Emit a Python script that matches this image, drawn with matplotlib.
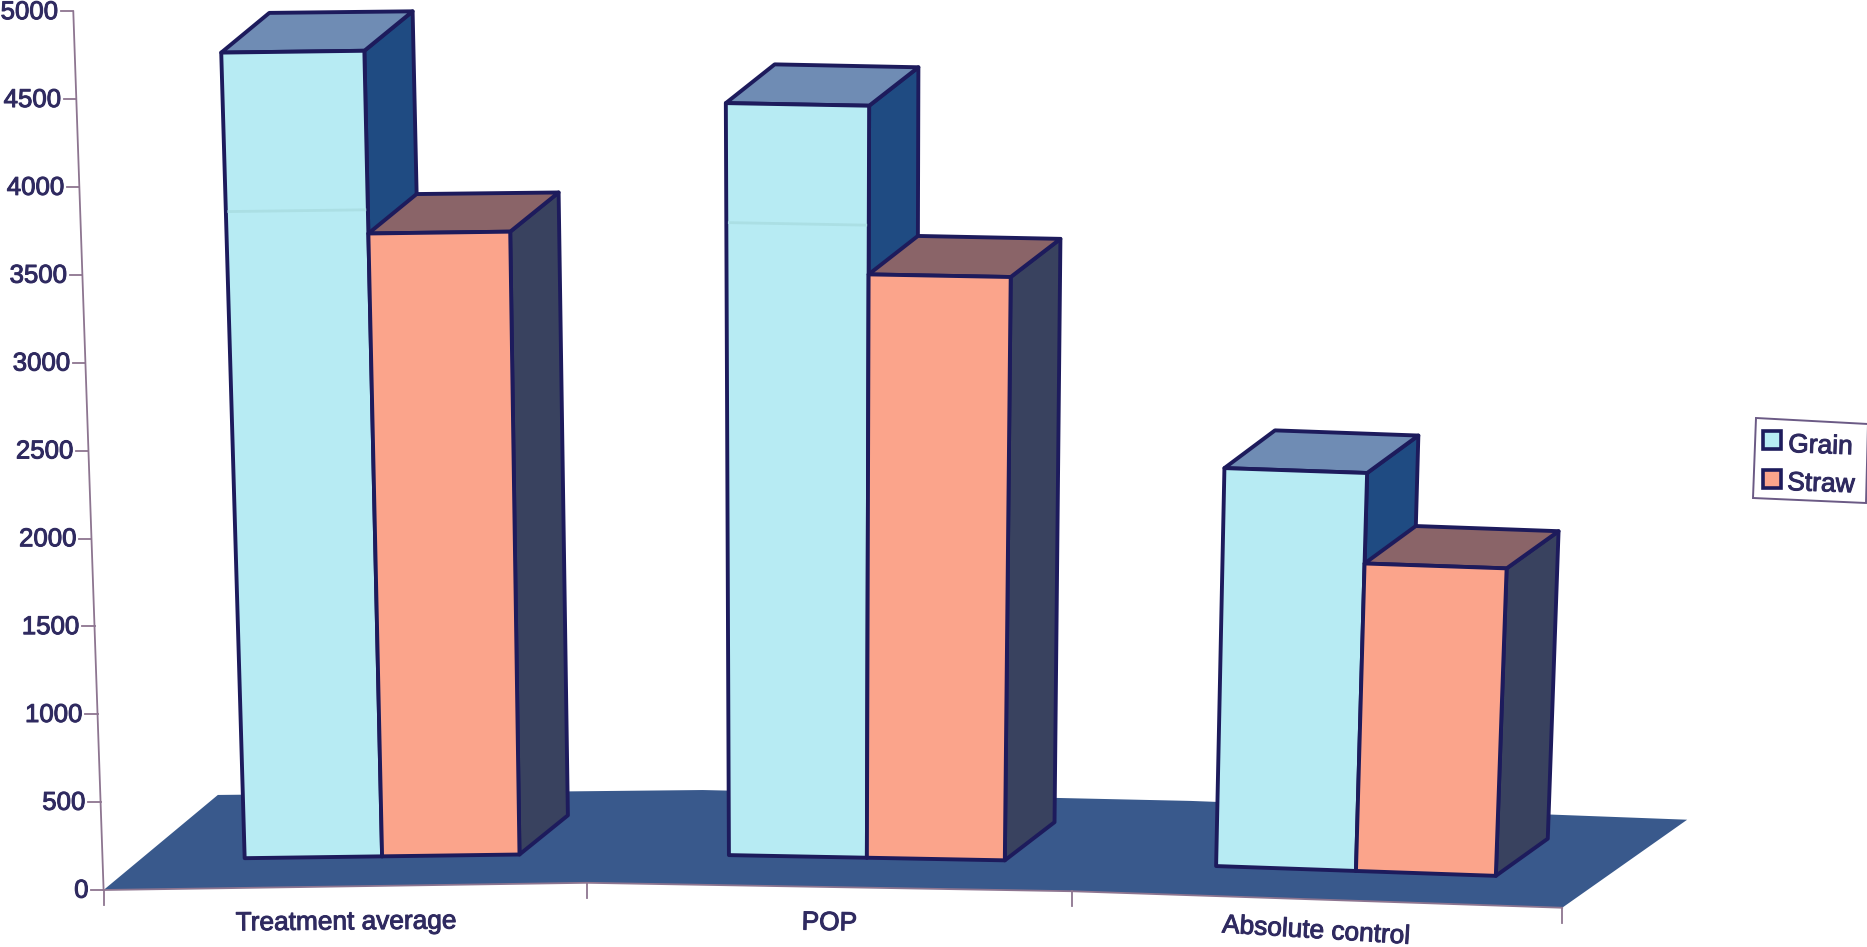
import numpy as np
import matplotlib
matplotlib.use('Agg')
import matplotlib.pyplot as plt
import matplotlib.patheffects as pe
from matplotlib.patches import Polygon, Rectangle

plt.rcParams['font.family'] = ['Liberation Sans', 'DejaVu Sans']

# yield by treatment
categories = ['Treatment average', 'POP', 'Absolute control']
grain = [4585, 4280, 2265]
straw = [3545, 3320, 1750]
value_ticks = [0, 500, 1000, 1500, 2000, 2500, 3000, 3500, 4000, 4500, 5000]

# pixels per data unit, used to set the axes limits
px_u = 486.2
px_v = 0.1757
origin_x = 103.6
origin_y = 890.0

# shape of the slanted 3D floor, one entry per category boundary
edge_u = [0, 1, 2, 3]
front_u = [0, 0.9943, 1.9910, 3]
front_v = [0, 41, -7, -101]
depth_u = [0.235, 0.2376, 0.245, 0.257]
depth_v = [541, 528, 514, 501]

# bar layout inside a category and along the floor depth
bar_start = 0.216
bar_width = 0.284
bar_front = 0.32
bar_back = 0.74

grain_front = '#b7ebf3'
grain_top = '#6f8cb4'
grain_side = '#1f4b82'
straw_front = '#fba48b'
straw_top = '#8a6468'
straw_side = '#39425f'
floor_color = '#39598c'
edge_color = '#1d1b5c'
axis_color = '#8d7590'
text_color = '#2f2a60'
crease_color = '#abdfe4'

# faint fold across the tall grain bars
crease_values = [3680, 3600]

heavy = [pe.withStroke(linewidth=0.7, foreground=text_color)]


def warp(u, v, d=0.0):
    # maps category position, value and depth to plain axes coordinates
    lean = (-0.0345 + 0.025 * u) * px_v / px_u
    x = np.interp(u, edge_u, front_u) + d * np.interp(u, edge_u, depth_u) + v * lean
    y = np.interp(u, edge_u, front_v) + d * np.interp(u, edge_u, depth_v) + v
    return x, y


def draw_bar(ax, left, value, front, top, side):
    right = left + bar_width
    front_pts = [warp(left, 0, bar_front), warp(right, 0, bar_front),
                 warp(right, value, bar_front), warp(left, value, bar_front)]
    top_pts = [warp(left, value, bar_front), warp(right, value, bar_front),
               warp(right, value, bar_back), warp(left, value, bar_back)]
    side_pts = [warp(right, 0, bar_front), warp(right, 0, bar_back),
                warp(right, value, bar_back), warp(right, value, bar_front)]
    for pts, color in [(side_pts, side), (top_pts, top), (front_pts, front)]:
        ax.add_patch(Polygon(pts, closed=True, facecolor=color, edgecolor=edge_color,
                             linewidth=2.8, joinstyle='round', clip_on=False))


fig = plt.figure(figsize=(18.67, 9.47), dpi=100)
ax = fig.add_axes([0, 0, 1, 1])
ax.set_xlim(-origin_x / px_u, (1867 - origin_x) / px_u)
ax.set_ylim(-(947 - origin_y) / px_v, origin_y / px_v)
ax.axis('off')

# floor
floor_pts = [warp(u, 0, 0) for u in edge_u] + [warp(u, 0, 1) for u in edge_u[::-1]]
ax.add_patch(Polygon(floor_pts, closed=True, facecolor=floor_color, edgecolor='none'))

# value axis
axis_x, axis_y = warp(0, 0)
top_x, top_y = warp(0, value_ticks[-1])
ax.plot([axis_x, top_x], [axis_y, top_y], color=axis_color, lw=1.3)
for v in value_ticks:
    x, y = warp(0, v)
    ax.plot([x - 0.026, x], [y, y], color=axis_color, lw=1.3)
    ax.text(x - 0.031, y - 4, str(v), ha='right', va='center', fontsize=18.6,
            color=text_color, clip_on=False, path_effects=heavy)

# category axis
line_x, line_y = zip(*[warp(u, 0) for u in edge_u])
ax.plot(line_x, line_y, color=axis_color, lw=1.3)
for u in edge_u:
    x, y = warp(u, 0)
    ax.plot([x, x], [y, y - 85], color=axis_color, lw=1.3)

label_rotation = [0.5, -1, -3.5]
label_drop = [205, 205, 180]
for i, name in enumerate(categories):
    x, y = warp(i + 0.5, -label_drop[i])
    ax.text(x, y, name, ha='center', va='center', fontsize=18.9, color=text_color,
            rotation=label_rotation[i], rotation_mode='anchor', path_effects=heavy)

# bars, drawn from the left so that straw hides the side of grain
for i in range(len(categories)):
    left = i + bar_start
    draw_bar(ax, left, grain[i], grain_front, grain_top, grain_side)
    if i < len(crease_values):
        x0, y0 = warp(left + 0.006, crease_values[i], bar_front)
        x1, y1 = warp(left + bar_width - 0.006, crease_values[i], bar_front)
        ax.plot([x0, x1], [y0, y1], color=crease_color, lw=2)
    draw_bar(ax, left + bar_width, straw[i], straw_front, straw_top, straw_side)

# legend box, slightly turned like the rest of the page
leg = fig.add_axes([0, 0, 1, 1])
leg.set_xlim(0, 1867)
leg.set_ylim(947, 0)
leg.axis('off')
leg.patch.set_alpha(0)
leg.add_patch(Polygon([(1756, 418), (1868, 424), (1866, 503), (1753, 498)], closed=True,
                      facecolor='white', edgecolor='#6b5a85', linewidth=1.4, clip_on=False))
leg.add_patch(Rectangle((1763, 431), 18, 18, facecolor=grain_front, edgecolor=edge_color, lw=2.6))
leg.add_patch(Rectangle((1763, 470), 18, 18, facecolor=straw_front, edgecolor=edge_color, lw=2.6))
leg.text(1788, 452, 'Grain', fontsize=19, color=text_color, va='baseline', rotation=-2,
         rotation_mode='anchor', path_effects=heavy)
leg.text(1787, 490, 'Straw', fontsize=19, color=text_color, va='baseline', rotation=-2,
         rotation_mode='anchor', path_effects=heavy)

fig.savefig('out.png', dpi=100)
